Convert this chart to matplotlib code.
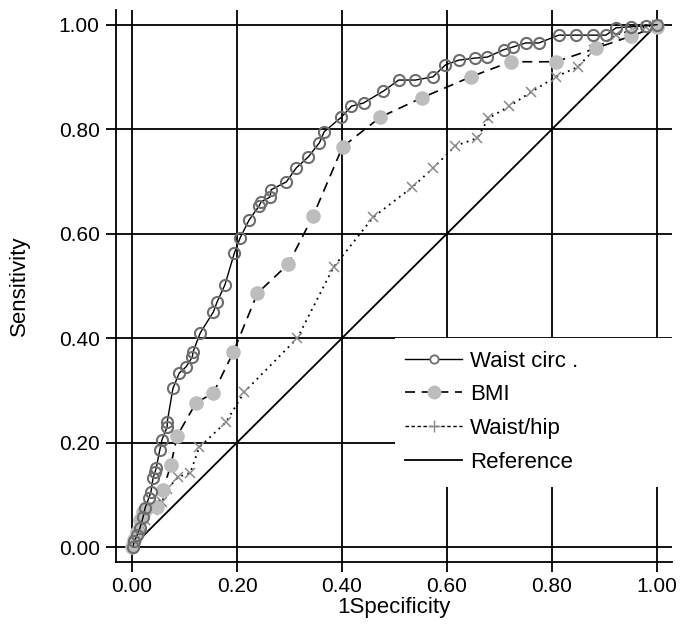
import matplotlib
matplotlib.use("Agg")
import matplotlib.pyplot as plt
from matplotlib.lines import Line2D
from matplotlib.patches import Rectangle

plt.rcParams['font.family'] = ['Liberation Sans', 'DejaVu Sans']

# ---- data ----
waist_x = [0.002, 0.004, 0.010, 0.015, 0.021, 0.025, 0.032, 0.036, 0.040, 0.044, 0.046,
           0.053, 0.057, 0.067, 0.067, 0.078, 0.090, 0.103, 0.115, 0.116, 0.130, 0.155,
           0.162, 0.177, 0.195, 0.206, 0.223, 0.242, 0.246, 0.263, 0.265, 0.294, 0.313,
           0.336, 0.357, 0.366, 0.399, 0.418, 0.441, 0.479, 0.508, 0.540, 0.573, 0.597,
           0.622, 0.653, 0.677, 0.708, 0.725, 0.750, 0.775, 0.813, 0.845, 0.878, 0.903,
           0.922, 0.950, 0.979, 1.000]
waist_y = [0.000, 0.011, 0.023, 0.036, 0.057, 0.075, 0.094, 0.105, 0.132, 0.144, 0.151,
           0.186, 0.205, 0.230, 0.239, 0.304, 0.333, 0.345, 0.364, 0.373, 0.410, 0.450,
           0.469, 0.502, 0.563, 0.592, 0.626, 0.653, 0.661, 0.670, 0.684, 0.699, 0.726,
           0.747, 0.774, 0.795, 0.823, 0.844, 0.850, 0.873, 0.894, 0.894, 0.900, 0.923,
           0.932, 0.936, 0.938, 0.952, 0.957, 0.965, 0.965, 0.980, 0.980, 0.980, 0.980,
           0.994, 0.996, 0.998, 1.000]

bmi_x = [0.000, 0.004, 0.010, 0.015, 0.021, 0.029, 0.048, 0.059, 0.074, 0.086, 0.122,
         0.155, 0.193, 0.239, 0.298, 0.345, 0.401, 0.473, 0.552, 0.645, 0.721, 0.807,
         0.884, 0.950, 1.000]
bmi_y = [0.000, 0.013, 0.029, 0.052, 0.067, 0.075, 0.077, 0.109, 0.157, 0.213, 0.276,
         0.295, 0.373, 0.486, 0.542, 0.634, 0.766, 0.823, 0.860, 0.900, 0.929, 0.929,
         0.955, 0.978, 0.996]

wh_x = [0.000, 0.006, 0.013, 0.019, 0.025, 0.040, 0.057, 0.067, 0.088, 0.111, 0.128,
        0.179, 0.214, 0.315, 0.384, 0.460, 0.534, 0.574, 0.616, 0.658, 0.679, 0.719,
        0.760, 0.807, 0.849, 0.880, 0.922, 0.954, 0.979, 1.000]
wh_y = [0.000, 0.013, 0.029, 0.038, 0.052, 0.071, 0.086, 0.111, 0.134, 0.142, 0.191,
        0.239, 0.297, 0.400, 0.536, 0.632, 0.689, 0.726, 0.768, 0.783, 0.821, 0.844,
        0.871, 0.900, 0.919, 0.952, 0.980, 0.990, 0.996, 1.000]

ref_x = [0.0, 1.0]
ref_y = [0.0, 1.0]

ticks = [0.0, 0.2, 0.4, 0.6, 0.8, 1.0]
tick_labels = ["0.00", "0.20", "0.40", "0.60", "0.80", "1.00"]
legend_labels = ["Waist circ .", "BMI", "Waist/hip", "Reference"]

# ---- figure ----
fig = plt.figure(figsize=(6.8, 6.3), dpi=100)
ax = fig.add_axes([116/680, 1 - 561.7/630, (672-116)/680, (561.7-10)/630])
ax.set_xlim(-0.0305, 1.0286)
ax.set_ylim(-0.0281, 1.0281)

for s in ['top', 'right']:
    ax.spines[s].set_visible(False)
for s in ['left', 'bottom']:
    ax.spines[s].set_linewidth(1.3)
    ax.spines[s].set_color('black')

ax.set_xticks(ticks)
ax.set_xticklabels(tick_labels)
ax.set_yticks(ticks)
ax.set_yticklabels(tick_labels)
ax.tick_params(axis='both', direction='out', length=7.2, width=1.3, labelsize=15, colors='black')
ax.tick_params(axis='x', pad=3.8)
ax.tick_params(axis='y', pad=4.5)
ax.grid(True, color='black', linewidth=1.3, zorder=0)
ax.set_axisbelow(True)

# white legend backdrop hiding grid
ax.add_patch(Rectangle((0.502, 0.135), 0.6, 0.270, transform=ax.transAxes,
                       facecolor='white', edgecolor='none', zorder=1.5))

ax.plot(ref_x, ref_y, color='black', linewidth=1.3, zorder=2)
ax.plot(wh_x, wh_y, color='black', linestyle=(0, (1, 2.5)), linewidth=1.3,
        marker='x', markersize=7, markeredgecolor='#8a8a8a', markeredgewidth=1.1, zorder=3)
ax.plot(bmi_x, bmi_y, color='black', linestyle=(0, (6, 4)), linewidth=1.2,
        marker='o', markersize=9.5, markerfacecolor='#bdbdbd', markeredgecolor='#bdbdbd', zorder=4)
ax.plot(waist_x, waist_y, color='black', linewidth=1.0,
        marker='o', markersize=8, markerfacecolor='none', markeredgecolor='#6e6e6e',
        markeredgewidth=1.5, zorder=5)

ax.set_xlabel("1Specificity", fontsize=16)
ax.set_ylabel("Sensitivity", fontsize=16)
ax.xaxis.set_label_coords(0.5, -0.0634)
ax.yaxis.set_label_coords(-0.155, 0.5)

handles = [
    Line2D([], [], color='black', linewidth=1.0, marker='o', markersize=6,
           markerfacecolor='white', markeredgecolor='#6e6e6e', markeredgewidth=1.3),
    Line2D([], [], color='black', linestyle=(0, (6, 4)), linewidth=1.2, marker='o',
           markersize=9, markerfacecolor='#bdbdbd', markeredgecolor='#bdbdbd'),
    Line2D([], [], color='black', linestyle=(0, (2.5, 1.8)), linewidth=1.0, marker='+',
           markersize=8, markeredgecolor='#8a8a8a', markeredgewidth=1.0),
    Line2D([], [], color='black', linewidth=1.3),
]
leg = ax.legend(handles, legend_labels, loc='upper left', bbox_to_anchor=(0.52, 0.3828),
                frameon=False, fontsize=16, borderpad=0, borderaxespad=0,
                handlelength=2.57, handletextpad=0.36, labelspacing=0.57)
leg.set_zorder(6)

fig.savefig("out.png", dpi=100)
